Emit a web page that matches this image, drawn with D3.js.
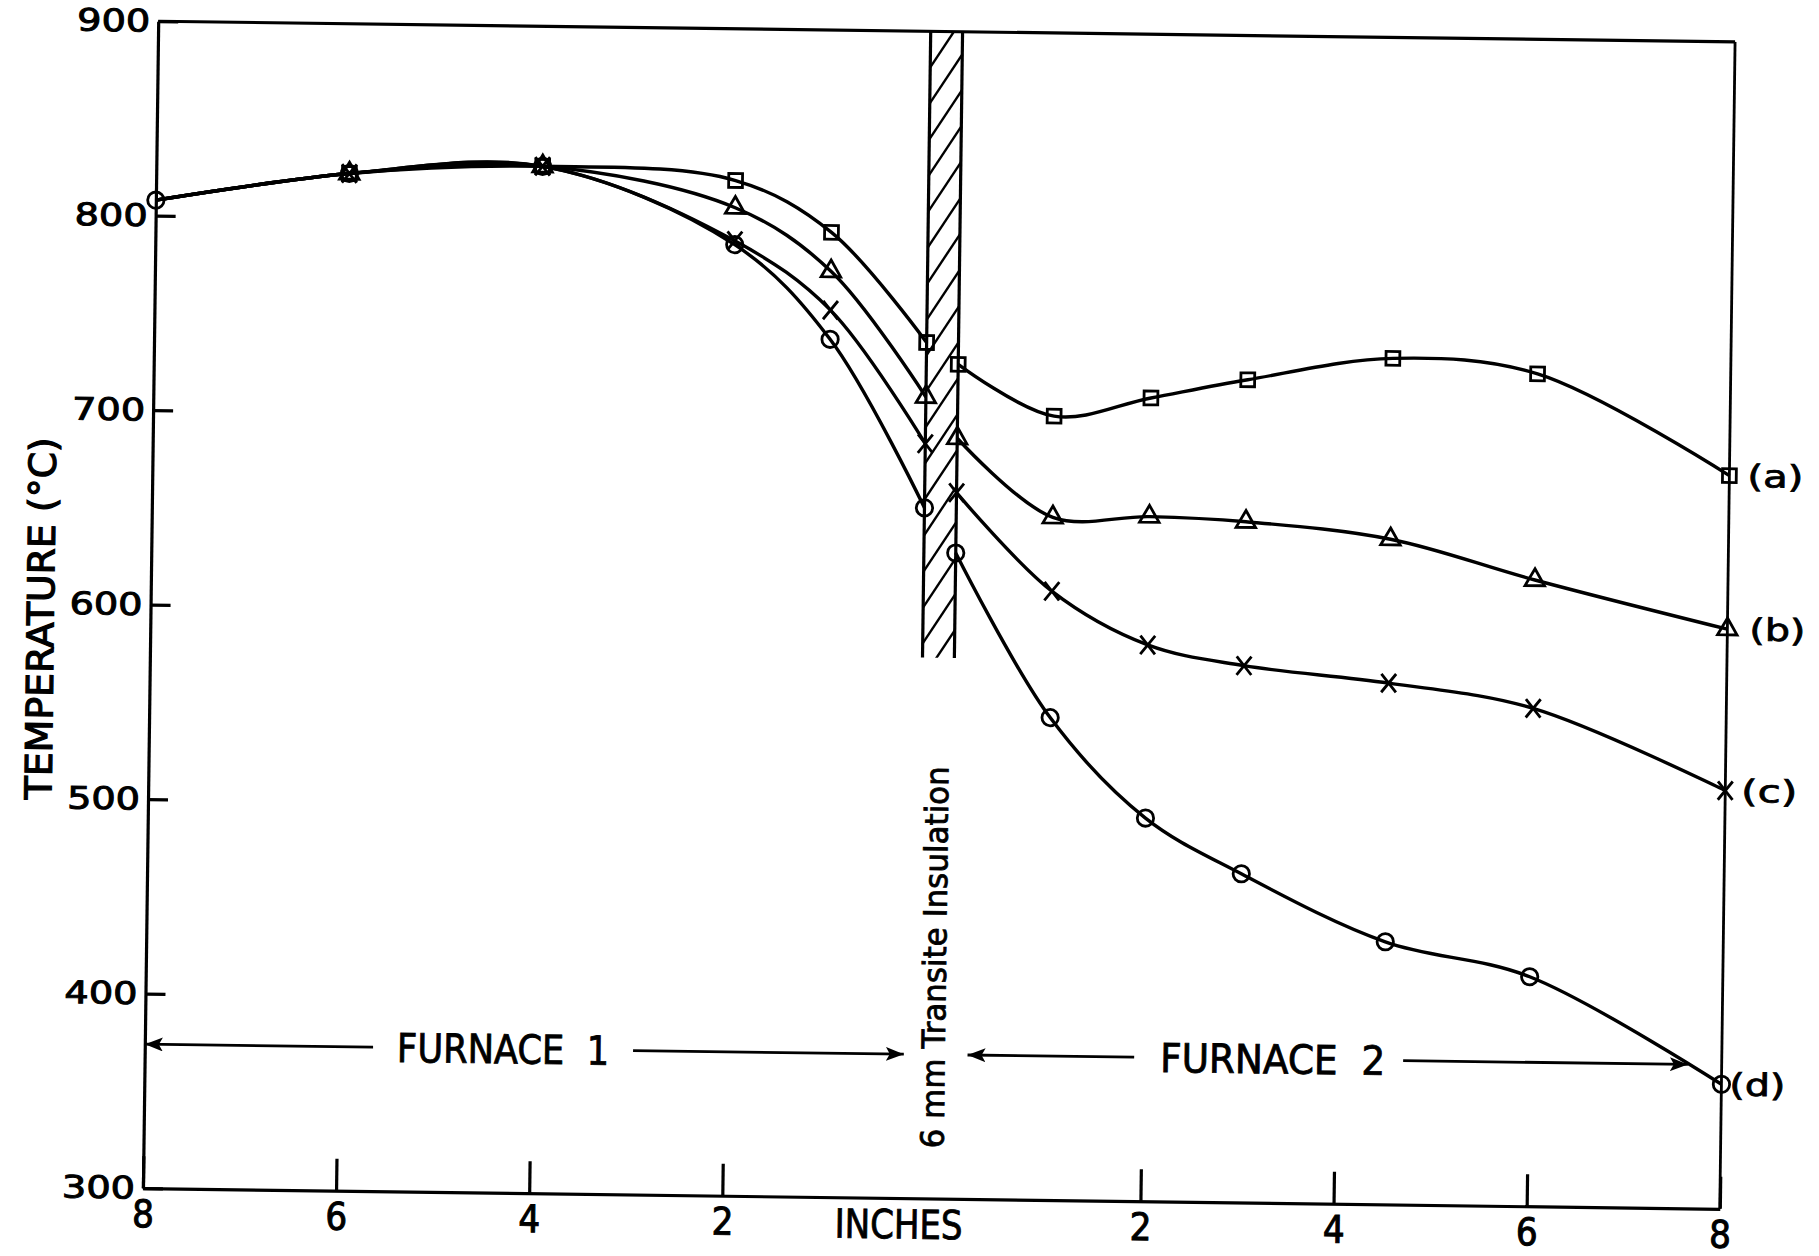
<!DOCTYPE html>
<html>
<head>
<meta charset="utf-8">
<script src="https://cdn.jsdelivr.net/npm/d3@7"></script>
<style>
  html, body { margin: 0; padding: 0; background: #fff; }
  svg { display: block; }
</style>
</head>
<body>
<div id="chart"></div>
<script>
// temperatures (deg C) along the two furnaces
const startDist = 8;            // first reading, shared by all four runs
const startTemp = 808;
const leftDist = [6, 4, 2, 1, 0];            // inches into furnace 1, measured from the insulation
const rightDist = [0, 1, 2, 3, 4.5, 6, 8];   // inches into furnace 2
const leftA = [823, 828, 822, 796, 740];
const leftB = [823, 828, 808, 776, 712];
const leftC = [823, 828, 791, 756, 688];
const leftD = [823, 828, 789, 741, 655];
const rightA = [729, 703, 713, 723, 735, 728, 677];
const rightB = [691, 651, 652, 650, 642, 622, 598];
const rightC = [663, 613, 586, 576, 568, 556, 515];
const rightD = [632, 548, 497, 469, 435, 418, 364];
const seriesLabels = ['(a)', '(b)', '(c)', '(d)'];
const yTicks = [300, 400, 500, 600, 700, 800, 900];
const xTicksLeft = [8, 6, 4, 2];
const xTicksRight = [2, 4, 6, 8];

const W = 1819, H = 1256;
const margin = { left: 150.5, top: 31.5 };
const width = 1577, height = 1167;
const gap = 0.33;        // insulation thickness in x-scale inches
const bandBottom = 578;  // where the hatched insulation stops

const narrowFont = '"Liberation Sans Narrow", "DejaVu Sans Condensed", "Liberation Sans", sans-serif';
const roundFont = '"DejaVu Sans", sans-serif';

const svg = d3.select('#chart').append('svg')
  .attr('width', W)
  .attr('height', H);
svg.append('rect').attr('width', W).attr('height', H).attr('fill', '#fff');

// the scanned original sits slightly rotated
const root = svg.append('g').attr('transform', 'rotate(0.75, 939, 615)');
const g = root.append('g')
  .attr('transform', 'translate(' + margin.left + ', ' + margin.top + ')');

const x = d3.scaleLinear().domain([0, 16 + gap]).range([0, width]);
const y = d3.scaleLinear().domain([300, 900]).range([height, 0]);
const posLeft = d => 8 - d;
const posRight = d => 8 + gap + d;

const defs = svg.append('defs');
defs.append('marker')
  .attr('id', 'arrow')
  .attr('viewBox', '0 -7 18 14')
  .attr('refX', 18).attr('refY', 0)
  .attr('markerWidth', 18).attr('markerHeight', 14)
  .attr('markerUnits', 'userSpaceOnUse')
  .attr('orient', 'auto')
  .append('path')
  .attr('d', 'M0,-7L18,0L0,7L4,0Z')
  .attr('fill', '#000');

// insulation band
const bx0 = x(posLeft(0)), bx1 = x(posRight(0));
defs.append('clipPath').attr('id', 'bandClip')
  .append('rect')
  .attr('x', margin.left + bx0).attr('y', margin.top + y(900))
  .attr('width', bx1 - bx0).attr('height', y(bandBottom) - y(900));
const hatch = g.append('g')
  .attr('clip-path', 'url(#bandClip)')
  .attr('transform', 'translate(' + (-margin.left) + ', ' + (-margin.top) + ')')
  .append('g')
  .attr('transform', 'translate(' + margin.left + ', ' + margin.top + ')');
d3.range(y(900), y(bandBottom) + 80, 36).forEach(h => {
  hatch.append('line')
    .attr('x1', bx0).attr('y1', h)
    .attr('x2', bx1).attr('y2', h - (bx1 - bx0) * 1.55)
    .attr('stroke', '#000').attr('stroke-width', 2.4);
});
[bx0, bx1].forEach(bx => {
  g.append('line')
    .attr('x1', bx).attr('x2', bx)
    .attr('y1', y(900)).attr('y2', y(bandBottom))
    .attr('stroke', '#000').attr('stroke-width', 3.2);
});

// axes
const yAxis = d3.axisLeft(y).tickValues(yTicks)
  .tickSizeInner(-20).tickSizeOuter(0).tickPadding(8);
const gy = g.append('g').call(yAxis);
gy.select('.domain').attr('stroke-width', 3.2);
gy.selectAll('.tick line').attr('stroke-width', 3.2);
gy.selectAll('.tick text')
  .attr('font-family', roundFont)
  .attr('font-size', 31)
  .attr('stroke', '#000')
  .attr('stroke-width', 1)
  .attr('textLength', 73)
  .attr('lengthAdjust', 'spacingAndGlyphs');

const xTickVals = xTicksLeft.map(posLeft).concat(xTicksRight.map(posRight));
const xTickText = xTicksLeft.concat(xTicksRight);
const xAxis = d3.axisBottom(x).tickValues(xTickVals)
  .tickFormat((d, i) => xTickText[i])
  .tickSizeInner(-32).tickSizeOuter(0).tickPadding(12);
const gx = g.append('g')
  .attr('transform', 'translate(0, ' + height + ')')
  .call(xAxis);
gx.select('.domain').attr('stroke-width', 3.2);
gx.selectAll('.tick line').attr('stroke-width', 3.2);
gx.selectAll('.tick text')
  .attr('font-family', narrowFont)
  .attr('font-size', 38)
  .attr('stroke', '#000')
  .attr('stroke-width', 1);

gx.append('text')
  .attr('x', x(posLeft(0.17)))
  .attr('y', 12)
  .attr('dy', '0.71em')
  .attr('text-anchor', 'middle')
  .attr('fill', '#000')
  .attr('stroke', '#000')
  .attr('stroke-width', 0.8)
  .attr('font-family', narrowFont)
  .attr('font-size', 40)
  .attr('textLength', 128)
  .attr('lengthAdjust', 'spacingAndGlyphs')
  .text('INCHES');

// top and right frame
g.append('line')
  .attr('x1', x(0)).attr('x2', x(16 + gap))
  .attr('y1', y(900)).attr('y2', y(900))
  .attr('stroke', '#000').attr('stroke-width', 3.2);
g.append('line')
  .attr('x1', x(16 + gap)).attr('x2', x(16 + gap))
  .attr('y1', y(900)).attr('y2', y(300))
  .attr('stroke', '#000').attr('stroke-width', 2.8);

g.append('text')
  .attr('transform', 'translate(-110, ' + (height / 2 + 15) + ') rotate(-90)')
  .attr('text-anchor', 'middle')
  .attr('dy', '0.36em')
  .attr('font-family', roundFont)
  .attr('font-size', 37)
  .attr('stroke', '#000')
  .attr('stroke-width', 1.2)
  .attr('textLength', 362)
  .attr('lengthAdjust', 'spacingAndGlyphs')
  .text('TEMPERATURE (°C)');

// curves and markers
const xSymbol = {
  draw(context, size) {
    const r = Math.sqrt(size) / 2;
    context.moveTo(-r * 0.8, -r); context.lineTo(r * 0.8, r);
    context.moveTo(-r * 0.8, r); context.lineTo(r * 0.8, -r);
  }
};
const series = [
  { left: leftA, right: rightA, type: d3.symbolSquare, size: 190 },
  { left: leftB, right: rightB, type: d3.symbolTriangle, size: 165 },
  { left: leftC, right: rightC, type: xSymbol, size: 340 },
  { left: leftD, right: rightD, type: d3.symbolCircle, size: 210 }
];
const labelNudge = [0, 4, -2, -10];

const line = d3.line()
  .x(d => x(d.p))
  .y(d => y(d.v))
  .curve(d3.curveCatmullRom.alpha(0.5));

series.forEach((s, k) => {
  const leftPts = [{ p: posLeft(startDist), v: startTemp }]
    .concat(leftDist.map((d, i) => ({ p: posLeft(d), v: s.left[i] })));
  const rightPts = rightDist.map((d, i) => ({ p: posRight(d), v: s.right[i] }));

  [leftPts, rightPts].forEach(pts => {
    g.append('path')
      .datum(pts)
      .attr('fill', 'none')
      .attr('stroke', '#000')
      .attr('stroke-width', 3.4)
      .attr('d', line);
  });

  const sym = d3.symbol().type(s.type).size(s.size);
  g.append('g').selectAll('path')
    .data(leftPts.slice(1).concat(rightPts))
    .join('path')
    .attr('transform', d => 'translate(' + x(d.p) + ', ' + y(d.v) + ')')
    .attr('d', sym)
    .attr('fill', 'none')
    .attr('stroke', '#000')
    .attr('stroke-width', 2.8);

  const last = rightPts[rightPts.length - 1];
  g.append('text')
    .attr('x', x(last.p) + 18 + labelNudge[k])
    .attr('y', y(last.v))
    .attr('dy', '0.36em')
    .attr('font-family', roundFont)
    .attr('font-size', 31)
    .attr('stroke', '#000')
    .attr('stroke-width', 0.8)
    .attr('textLength', 56)
    .attr('lengthAdjust', 'spacingAndGlyphs')
    .text(seriesLabels[k]);
});

// shared starting point
g.append('path')
  .attr('transform', 'translate(' + x(posLeft(startDist)) + ', ' + y(startTemp) + ')')
  .attr('d', d3.symbol().type(d3.symbolCircle).size(210))
  .attr('fill', 'none')
  .attr('stroke', '#000')
  .attr('stroke-width', 2.8);

// furnace annotations
const arrowTemp = 374;
function furnace(label, cx, tw, fromX, toX, gapL, gapR) {
  g.append('text')
    .attr('x', cx).attr('y', y(arrowTemp))
    .attr('dy', '0.36em')
    .attr('text-anchor', 'middle')
    .attr('font-family', narrowFont)
    .attr('font-size', 40)
    .attr('stroke', '#000')
    .attr('stroke-width', 0.8)
    .attr('textLength', tw)
    .attr('lengthAdjust', 'spacingAndGlyphs')
    .text(label);
  g.append('line')
    .attr('x1', cx - tw / 2 - gapL).attr('x2', fromX)
    .attr('y1', y(arrowTemp)).attr('y2', y(arrowTemp))
    .attr('stroke', '#000').attr('stroke-width', 2.8)
    .attr('marker-end', 'url(#arrow)');
  g.append('line')
    .attr('x1', cx + tw / 2 + gapR).attr('x2', toX)
    .attr('y1', y(arrowTemp)).attr('y2', y(arrowTemp))
    .attr('stroke', '#000').attr('stroke-width', 2.8)
    .attr('marker-end', 'url(#arrow)');
}
furnace('FURNACE\u00a0\u00a01', x(posLeft(4.29)), 212, x(posLeft(8)), x(posLeft(0.14)), 24, 24);
furnace('FURNACE\u00a0\u00a02', x(posRight(3.35)), 225, x(posRight(0.19)), x(posRight(7.65)), 26, 18);

g.append('text')
  .attr('transform', 'translate(' + ((bx0 + bx1) / 2) + ', ' + y(424) + ') rotate(-90)')
  .attr('text-anchor', 'middle')
  .attr('dy', '0.36em')
  .attr('font-family', roundFont)
  .attr('font-size', 32)
  .attr('stroke', '#000')
  .attr('stroke-width', 0.8)
  .attr('textLength', 382)
  .attr('lengthAdjust', 'spacingAndGlyphs')
  .text('6 mm Transite Insulation');
</script>
</body>
</html>
